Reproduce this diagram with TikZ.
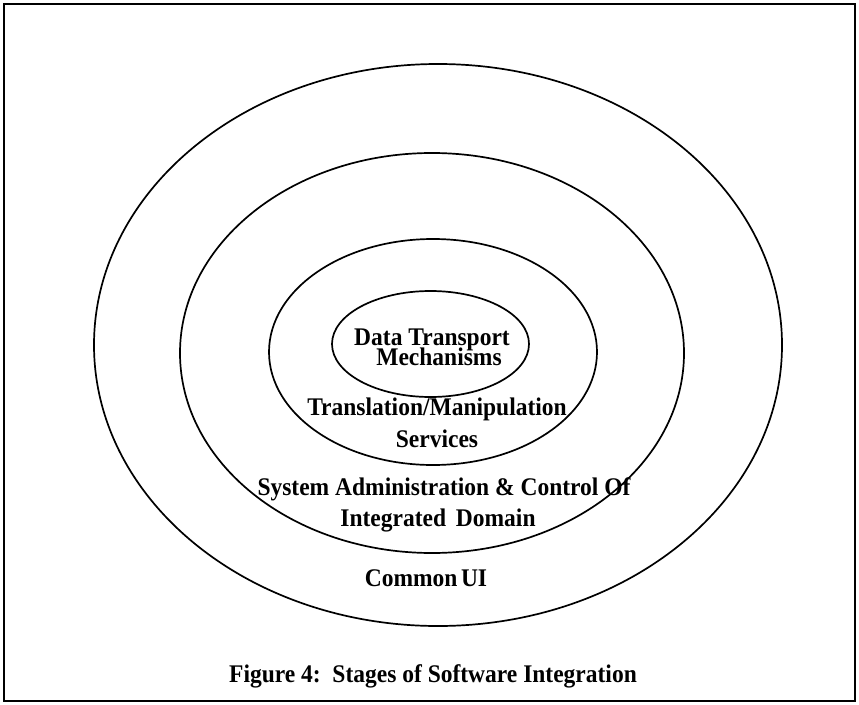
\documentclass[tikz,border=0pt]{standalone}
\usepackage{fontspec}
\setmainfont{Liberation Serif}
\usetikzlibrary{shapes.geometric}
\newcommand{\tallt}[1]{\scalebox{1}[1.08]{#1}}
\tikzset{
  ring/.style={ellipse, draw, line width=1.7pt, inner sep=0pt, outer sep=0pt},
  lbl/.style={anchor=base, inner sep=0pt, font=\fontsize{23.5}{24}\selectfont\bfseries},
}
\begin{document}
\begin{tikzpicture}[x=1pt,y=-1pt]
\useasboundingbox (0,0) rectangle (859,704);
\draw[line width=2.8pt] (4,4) rectangle (855,701);
\node[ring, minimum width=688pt, minimum height=562pt] (outer) at (438,345) {};
\node[ring, minimum width=504pt, minimum height=400pt] (middle) at (432,353) {};
\node[ring, minimum width=328pt, minimum height=226pt] (inner) at (433,352) {};
\node[ring, minimum width=197pt, minimum height=106pt] (core) at (430.5,344) {};
\node[lbl] (dt1) at (432,345) {\tallt{Data Transport}};
\node[lbl] (dt2) at (439,365.5) {\tallt{Mechanisms}};
\node[lbl] (tm1) at (437,415) {\tallt{Translation/Manipulation}};
\node[lbl] (tm2) at (437,447) {\tallt{Services}};
\node[lbl] (sa1) at (444,495) {\tallt{System Administration \& Control Of}};
\node[lbl] (sa2) at (438,526.5) {\tallt{Integrated\, Domain}};
\node[lbl] (cu) at (426,586) {\tallt{Common\hspace{0.15em}UI}};
\node[lbl] (cap) at (433,682) {\tallt{Figure 4:\, Stages of Software Integration}};
\end{tikzpicture}
\end{document}
